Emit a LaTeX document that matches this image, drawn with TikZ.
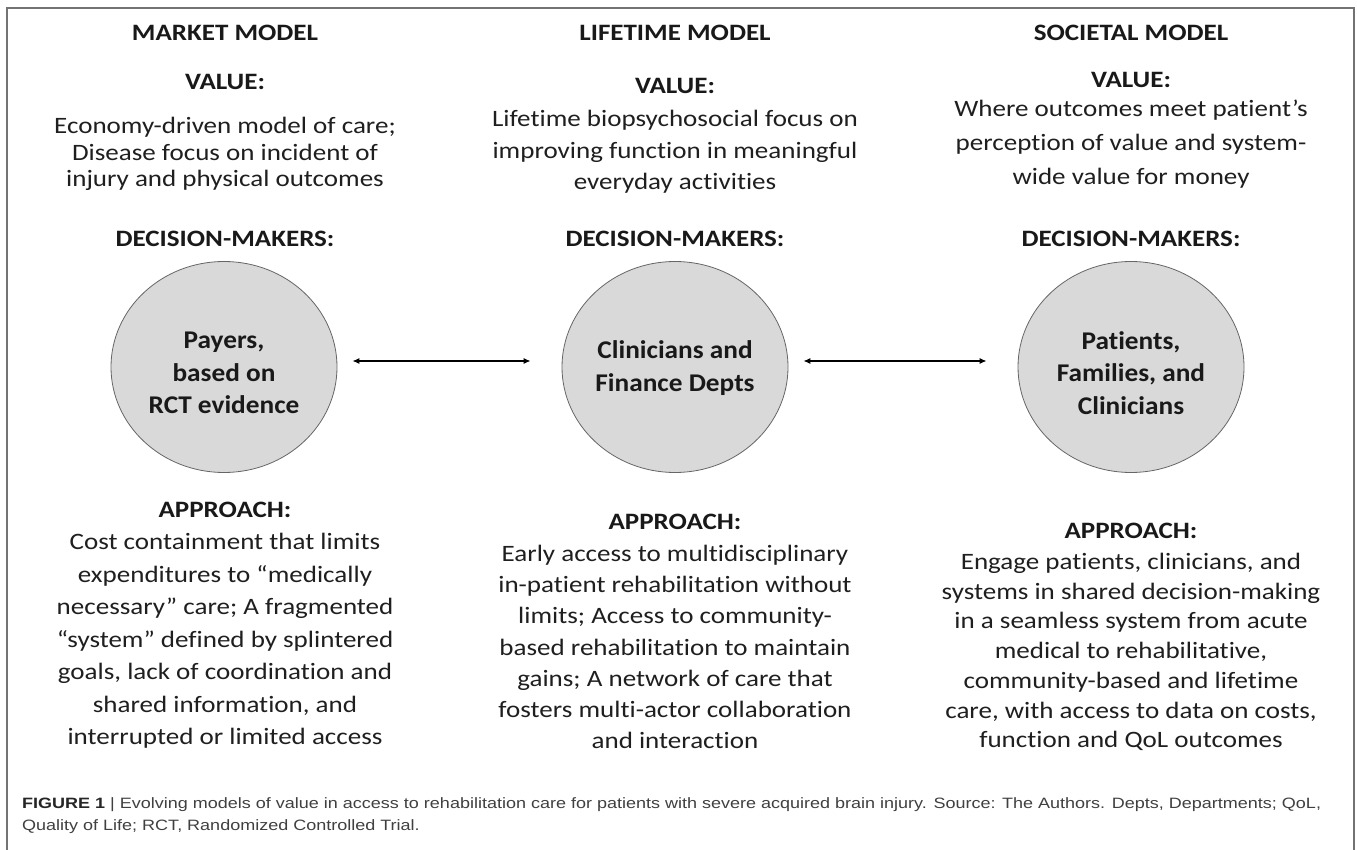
\documentclass[tikz,border=0pt]{standalone}
\usepackage{fontspec}
\setmainfont{Carlito}[FakeStretch=1.15,Ligatures=NoCommon]
\newfontfamily\actorfont{Carlito}[FakeStretch=1.07,Ligatures=NoCommon]
\newfontfamily\capfont{Liberation Sans}[FakeStretch=1.2]
\usetikzlibrary{shapes.geometric,arrows.meta}

\begin{document}
\begin{tikzpicture}[x=1pt,y=-1pt,
  frameline/.style={draw=black!55,line width=1.4pt},
  modelhead/.style={font=\fontsize{23.5}{26}\selectfont\bfseries,text=black!90,inner sep=0pt},
  bodytext/.style={align=center,text=black!88,inner sep=0pt},
  actor/.style={ellipse,draw=black!60,fill=black!15,line width=0.8pt,
    minimum width=226pt,minimum height=211pt,inner sep=0pt},
  actorlabel/.style={align=center,inner sep=0pt,
    font=\actorfont\fontsize{25.5}{32.5}\selectfont\bfseries,text=black!90},
  link/.style={{Latex[length=7pt,width=6pt]}-{Latex[length=7pt,width=6pt]},line width=1.2pt,black},
  captext/.style={anchor=west,inner sep=0pt,font=\capfont\fontsize{15}{22}\selectfont,text=black!75}
]
\useasboundingbox (0,0) rectangle (1357,850);
\fill[white] (0,0) rectangle (1357,850);

% open frame around the figure and caption
\coordinate (fbl) at (7,855);
\coordinate (ftl) at (7,8);
\coordinate (ftr) at (1354,8);
\coordinate (fbr) at (1354,855);
\draw[frameline] (fbl) -- (ftl) -- (ftr) -- (fbr);

% column headings
\node[modelhead] (hm) at (225,33) {MARKET MODEL};
\node[modelhead] (hl) at (675,33) {LIFETIME MODEL};
\node[modelhead] (hs) at (1131,33) {SOCIETAL MODEL};

% value
\node[modelhead] (vm) at (225,82) {VALUE:};
\node[modelhead] (vl) at (675,86) {VALUE:};
\node[modelhead] (vs) at (1131,80) {VALUE:};

\node[bodytext,font=\fontsize{23.5}{26.5}\selectfont] (vtm) at (225,154)
  {Economy-driven model of care;\\Disease focus on incident of\\injury and physical outcomes};
\node[bodytext,font=\fontsize{23.5}{31.5}\selectfont] (vtl) at (675,152)
  {Lifetime biopsychosocial focus on\\improving function in meaningful\\everyday activities};
\node[bodytext,font=\fontsize{23.5}{34}\selectfont] (vts) at (1131,144)
  {Where outcomes meet patient’s\\perception of value and system-\\wide value for money};

% decision-makers
\node[modelhead] (dm) at (225,239) {DECISION-MAKERS:};
\node[modelhead] (dl) at (675,239) {DECISION-MAKERS:};
\node[modelhead] (ds) at (1131,239) {DECISION-MAKERS:};

\node[actor] (cm) at (224,367) {};
\node[actor] (cl) at (675,367) {};
\node[actor] (cs) at (1131,367) {};
\node[actorlabel] (cmt) at (224,373) {Payers,\\based on\\RCT evidence};
\node[actorlabel] (clt) at (675,368) {Clinicians and\\Finance Depts};
\node[actorlabel] (cst) at (1131,373) {Patients,\\Families, and\\Clinicians};

\draw[link] ([xshift=15pt,yshift=6pt]cm.east) -- ([xshift=-31pt,yshift=6pt]cl.west);
\draw[link] ([xshift=15pt,yshift=6pt]cl.east) -- ([xshift=-31pt,yshift=6pt]cs.west);

% approach
\node[modelhead] (am) at (225,510) {APPROACH:};
\node[modelhead] (al) at (675,522) {APPROACH:};
\node[modelhead] (as) at (1131,531) {APPROACH:};

\node[bodytext,font=\fontsize{23.5}{32.5}\selectfont] (atm) at (225,641)
  {Cost containment that limits\\expenditures to “medically\\necessary” care; A fragmented\\“system” defined by splintered\\goals, lack of coordination and\\shared information, and\\interrupted or limited access};
\node[bodytext,font=\fontsize{23.5}{31.3}\selectfont] (atl) at (675,647)
  {Early access to multidisciplinary\\in-patient rehabilitation without\\limits; Access to community-\\based rehabilitation to maintain\\gains; A network of care that\\fosters multi-actor collaboration\\and interaction};
\node[bodytext,font=\fontsize{23.5}{29.7}\selectfont] (ats) at (1131,652)
  {Engage patients, clinicians, and\\systems in shared decision-making\\in a seamless system from acute\\medical to rehabilitative,\\community-based and lifetime\\care, with access to data on costs,\\function and QoL outcomes};

% caption
\node[captext] (cap1) at (22,805) {{\bfseries\color{black!85}FIGURE 1} \textbar{} Evolving models of value in access to rehabilitation care for patients with severe acquired brain injury. Source: The Authors. Depts, Departments; QoL,};
\node[captext] (cap2) at (22,827) {Quality of Life; RCT, Randomized Controlled Trial.};
\end{tikzpicture}
\end{document}
